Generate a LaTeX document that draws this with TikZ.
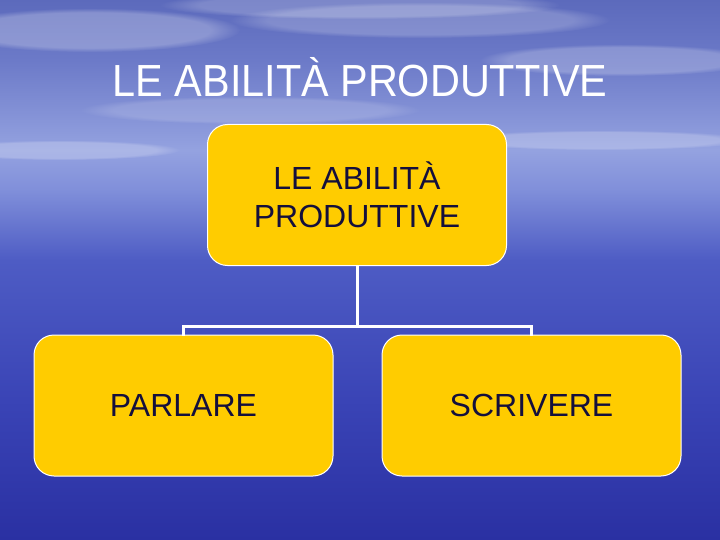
\documentclass[tikz,border=0pt]{standalone}
\usepackage{fontspec}
\setmainfont{Liberation Sans}
\usepackage{graphicx}
\usetikzlibrary{fadings}
\definecolor{boxfill}{RGB}{255,204,0}
\definecolor{boxtext}{RGB}{20,15,60}
\definecolor{bgA}{RGB}{42,48,162}
\definecolor{bgB}{RGB}{58,68,182}
\definecolor{bgC}{RGB}{78,92,196}
\definecolor{bgD}{RGB}{128,143,218}
\definecolor{bgE}{RGB}{148,162,224}
\definecolor{bgF}{RGB}{108,122,200}
\definecolor{bgG}{RGB}{92,106,188}
\pgfdeclareverticalshading{skysea}{100bp}{color(0bp)=(bgA); color(25bp)=(bgA); color(38bp)=(bgB); color(50.9bp)=(bgC); color(57.4bp)=(bgD); color(61.1bp)=(bgE); color(69.4bp)=(bgF); color(75bp)=(bgG); color(100bp)=(bgG)}
\tikzset{
  orgbox/.style={draw=white, line width=1pt, fill=boxfill, rounded corners=20pt,
    minimum width=299pt, minimum height=141pt, text=boxtext, align=center,
    font=\fontsize{32}{38}\selectfont},
  link/.style={draw=white, line width=3pt},
  cloud/.style={fill=white, path fading=circle with fuzzy edge 20 percent},
}
\begin{document}
\begin{tikzpicture}[x=1pt,y=-1pt]
\useasboundingbox (0,0) rectangle (720,540);
\shade[shading=skysea] (0,0) rectangle (720,540);
% soft clouds
\foreach \cx/\cy/\rx/\ry/\op in {90/30/150/22/0.25, 420/20/190/18/0.2, 620/60/140/16/0.22, 250/110/170/14/0.15, 600/140/150/10/0.22, 60/150/120/10/0.22, 360/5/200/14/0.2}
  \fill[cloud, opacity=\op] (\cx,\cy) ellipse [x radius=\rx, y radius=\ry];
% title
\node[text=white, font=\fontsize{45}{54}\selectfont, anchor=base, inner sep=0pt] (title) at (360,97)
  {\scalebox{0.92}[1]{LE ABILITÀ PRODUTTIVE}};
% boxes
\node[orgbox] (top) at (357,195) {LE ABILITÀ\\PRODUTTIVE};
\node[orgbox] (left) at (183.5,405.5) {PARLARE};
\node[orgbox] (right) at (531.5,405.5) {SCRIVERE};
% connectors
\coordinate (mid) at (357,326);
\draw[link] (top.south) -- (mid);
\draw[link, line cap=rect] (left.north) -- (left.north |- mid) -- (right.north |- mid) -- (right.north);
\end{tikzpicture}
\end{document}
